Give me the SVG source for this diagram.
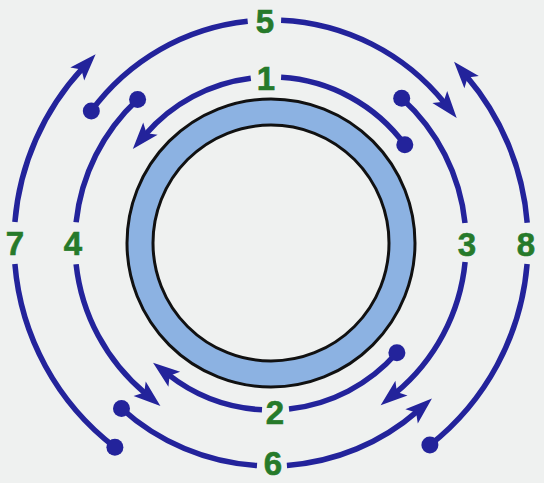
<svg xmlns="http://www.w3.org/2000/svg" width="544" height="483" viewBox="0 0 544 483">
  <style>
    .arc { fill: none; stroke: #23239b; stroke-width: 5.5; stroke-linecap: butt; }
    .dot { fill: #23239b; }
    .lbl { font-family: "Liberation Sans", Arial, sans-serif; font-weight: bold; font-size: 33px; fill: #267a2a; text-anchor: middle; stroke: #267a2a; stroke-width: 0.6; }
    .ring { fill: #8cb2e2; stroke: #111; stroke-width: 3; }
    .hole { fill: #eff1f0; stroke: #111; stroke-width: 3; }
  </style>
  <defs>
    <marker id="arr" markerUnits="userSpaceOnUse" markerWidth="30" markerHeight="20" refX="8" refY="0" orient="auto" overflow="visible">
      <path d="M0,-9.5 L27,0 L0,9.5 L6,0 Z" fill="#23239b"/>
    </marker>
  </defs>
  <rect x="0" y="0" width="544" height="483" fill="#eff1f0"/>

  <g id="pipe">
    <circle class="ring" cx="271" cy="243" r="144"/>
    <circle class="hole" cx="271" cy="243" r="118"/>
  </g>

  <g id="connectors">
    <!-- 1 -->
    <path class="arc" d="M250.8,78.2 A166,166 0 0 0 145.2,134.7" marker-end="url(#arr)"/>
    <path class="arc" d="M281.1,77.3 A166,166 0 0 1 404.8,144.7"/>
    <circle class="dot" cx="404.8" cy="144.7" r="8.5"/>
    <!-- 5 -->
    <path class="arc" d="M247.7,21.2 A223,223 0 0 0 91.3,111.0"/>
    <circle class="dot" cx="91.3" cy="111.0" r="8.5"/>
    <path class="arc" d="M281.1,20.2 A223,223 0 0 1 444.8,103.3" marker-end="url(#arr)"/>
    <!-- 4 -->
    <path class="arc" d="M76.1,222.2 A196,196 0 0 1 137.6,99.4"/>
    <circle class="dot" cx="137.6" cy="99.4" r="8.5"/>
    <path class="arc" d="M76.1,264.2 A196,196 0 0 0 145.8,393.8" marker-end="url(#arr)"/>
    <!-- 3 -->
    <path class="arc" d="M465.0,223.0 A195,195 0 0 0 401.7,98.3"/>
    <circle class="dot" cx="401.7" cy="98.3" r="8.5"/>
    <path class="arc" d="M465.1,262.0 A195,195 0 0 1 395.3,393.2" marker-end="url(#arr)"/>
    <!-- 7 -->
    <path class="arc" d="M14.9,221.9 A257,257 0 0 1 82.7,68.1" marker-end="url(#arr)"/>
    <path class="arc" d="M14.9,264.1 A257,257 0 0 0 114.9,447.2"/>
    <circle class="dot" cx="114.9" cy="447.2" r="8.5"/>
    <!-- 8 -->
    <path class="arc" d="M527.2,222.8 A257,257 0 0 0 466.4,76.1" marker-end="url(#arr)"/>
    <path class="arc" d="M527.1,264.1 A257,257 0 0 1 429.9,445.0"/>
    <circle class="dot" cx="429.9" cy="445.0" r="8.5"/>
    <!-- 2 -->
    <path class="arc" d="M262.0,409.8 A167,167 0 0 1 168.0,374.4" marker-end="url(#arr)"/>
    <path class="arc" d="M289.0,409.0 A167,167 0 0 0 396.9,352.8"/>
    <circle class="dot" cx="396.9" cy="352.8" r="8.5"/>
    <!-- 6 -->
    <path class="arc" d="M257.0,465.6 A223,223 0 0 1 121.5,408.5"/>
    <circle class="dot" cx="121.5" cy="408.5" r="8.5"/>
    <path class="arc" d="M286.9,465.4 A223,223 0 0 0 417.6,411.1" marker-end="url(#arr)"/>
  </g>

  <g id="label-1"><text class="lbl" x="266" y="90">1</text></g>
  <g id="label-2"><text class="lbl" x="275" y="424">2</text></g>
  <g id="label-3"><text class="lbl" x="467" y="256">3</text></g>
  <g id="label-4"><text class="lbl" x="73" y="255">4</text></g>
  <g id="label-5"><text class="lbl" x="265" y="33">5</text></g>
  <g id="label-6"><text class="lbl" x="273" y="475">6</text></g>
  <g id="label-7"><text class="lbl" x="15" y="255">7</text></g>
  <g id="label-8"><text class="lbl" x="526" y="256">8</text></g>
</svg>
